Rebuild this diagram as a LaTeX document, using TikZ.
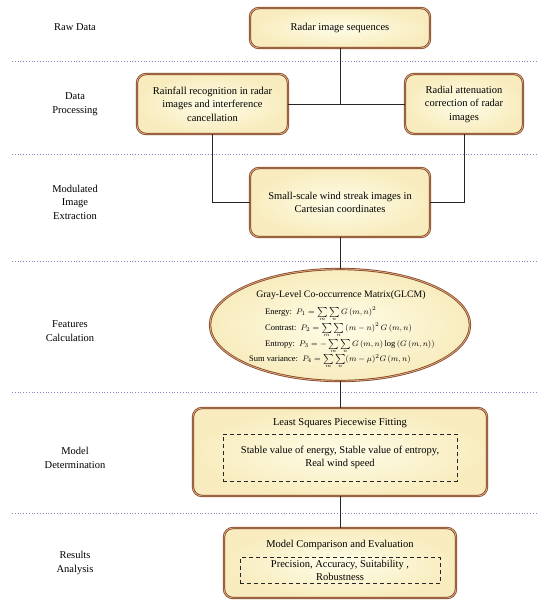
\documentclass[tikz,border=0pt]{standalone}
\usepackage{fontspec}
\setmainfont{Liberation Serif}
\usetikzlibrary{shapes.geometric}
\definecolor{boxborder}{RGB}{125,62,30}
\definecolor{boxinner}{RGB}{215,165,125}
\definecolor{creamin}{RGB}{255,253,232}
\definecolor{creamout}{RGB}{248,236,190}
\definecolor{sepblue}{RGB}{130,135,200}
\newcommand{\mysum}[1]{\mathop{\vtop{\offinterlineskip\halign{\hfil##\hfil\cr$\scriptstyle\sum$\cr\noalign{\kern1pt}$\scriptscriptstyle #1$\cr}}}}
\newcommand{\dsum}{\mysum{m}\mysum{n}}
\tikzset{
  mainbox/.style={rectangle, rounded corners=9pt, draw=boxborder, line width=0.7pt,
    double=boxinner, double distance=0.9pt, inner color=creamin, outer color=creamout,
    align=center, font=\fontsize{10.5}{13.5}\selectfont, inner sep=2pt},
  ellbox/.style={ellipse, draw=boxborder, line width=0.7pt, double=boxinner,
    double distance=0.9pt, inner color=creamin, outer color=creamout},
  dashbox/.style={rectangle, draw=black!85, line width=0.9pt, dash pattern=on 4pt off 3pt,
    align=center, font=\fontsize{10.5}{13.5}\selectfont},
  stagelabel/.style={align=center, font=\fontsize{10.5}{13.5}\selectfont},
  sepline/.style={sepblue, line width=0.8pt, dotted},
  link/.style={black!85, line width=1pt},
  eqline/.style={anchor=base west, font=\fontsize{8.5}{10}\selectfont, inner sep=0pt},
}
\begin{document}
\begin{tikzpicture}[x=1pt,y=-1pt]
\useasboundingbox (0,0) rectangle (550,608);
\fill[white] (0,0) rectangle (550,608);

% separators
\foreach \yy in {61,154,261,392,513}
  \draw[sepline] (12,\yy) -- (538,\yy);

% stage labels
\node[stagelabel] (l1) at (75,27) {Raw Data};
\node[stagelabel] (l2) at (75,104) {Data\\Processing};
\node[stagelabel] (l3) at (75,202) {Modulated\\Image\\Extraction};
\node[stagelabel] (l4) at (70,331) {Features\\Calculation};
\node[stagelabel] (l5) at (75,458) {Model\\Determination};
\node[stagelabel] (l6) at (75,563) {Results\\Analysis};

% boxes
\node[mainbox, minimum width=180pt, minimum height=40pt] (raw) at (340,28) {Radar image sequences};
\node[mainbox, minimum width=151pt, minimum height=60pt] (rain) at (212.5,104)
  {Rainfall recognition in radar\\images and interference\\cancellation};
\node[mainbox, minimum width=118pt, minimum height=60pt] (radial) at (464,104)
  {Radial attenuation\\correction of radar\\images};
\node[mainbox, minimum width=180pt, minimum height=69pt] (small) at (340,202.5)
  {Small-scale wind streak images in\\Cartesian coordinates};
\node[ellbox, minimum width=260pt, minimum height=112pt, inner sep=0pt] (glcm) at (340,325) {};
\node[mainbox, minimum width=294pt, minimum height=88pt] (lsq) at (340,452) {};
\node[mainbox, minimum width=232pt, minimum height=70pt] (mc) at (340,563) {};

% ellipse contents
\node[anchor=base, font=\fontsize{9.8}{11}\selectfont, inner sep=0pt] (gt) at (341,297)
  {Gray-Level Co-occurrence Matrix(GLCM)};
\node[eqline] (e1) at (265,314) {Energy:\enspace $P_1=\dsum G\left(m,n\right)^2$};
\node[eqline] (e2) at (265,330) {Contrast:\enspace $P_2=\dsum \left(m-n\right)^2 G\left(m,n\right)$};
\node[eqline] (e3) at (265,346) {Entropy:\enspace $P_3=-\dsum G\left(m,n\right)\log\left(G\left(m,n\right)\right)$};
\node[eqline] (e4) at (249,361) {Sum variance:\enspace $P_4=\dsum (m-\mu)^2 G\left(m,n\right)$};

% least squares contents
\node[font=\fontsize{10.5}{13.5}\selectfont, inner sep=0pt] (lsqt) at (340,423) {Least Squares Piecewise Fitting};
\node[dashbox, minimum width=234pt, minimum height=47pt] (lsqd) at (340,457.5)
  {Stable value of energy, Stable value of entropy,\\Real wind speed};

% model comparison contents
\node[font=\fontsize{10.5}{13.5}\selectfont, inner sep=0pt] (mct) at (340,545) {Model Comparison and Evaluation};
\node[dashbox, minimum width=200pt, minimum height=26pt, inner sep=1pt] (mcd) at (340,570.5)
  {Precision, Accuracy, Suitability ,\\Robustness};

% connectors
\draw[link] (raw.south) -- (raw.south |- rain.east);
\draw[link] (rain.east) -- (radial.west);
\draw[link] (rain.south) |- (small.west);
\draw[link] (radial.south) |- (small.east);
\draw[link] (small.south) -- (glcm.north);
\draw[link] (glcm.south) -- (lsq.north);
\draw[link] (lsq.south) -- (mc.north);
\end{tikzpicture}
\end{document}
